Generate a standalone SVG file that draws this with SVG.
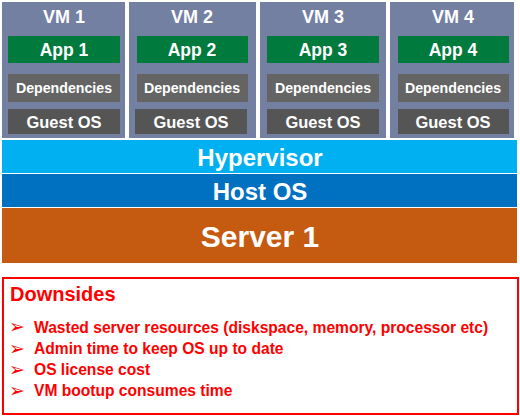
<svg xmlns="http://www.w3.org/2000/svg" width="520" height="418" viewBox="0 0 520 418">
<style>
.vm{fill:#7480A2}
.app{fill:#007A3D}
.dep{fill:#646464}
.gos{fill:#555555}
text{font-family:"Liberation Sans",Arial,sans-serif;font-weight:bold;fill:#fff;text-anchor:middle}
.t18{font-size:18px}
.t17{font-size:17.5px}
.t14{font-size:14.2px}
.t16{font-size:16.5px}
.big{font-size:24px}
.srv{font-size:30px}
.red{fill:#FF0000;text-anchor:start}
.bul{font-family:"DejaVu Sans",sans-serif;font-size:19px;font-weight:normal}
</style>
<rect width="520" height="418" fill="#fff"/>
<g id="vm1">
<rect class="vm" x="2" y="2" width="123" height="136"/>
<text class="t18" x="64" y="23">VM 1</text>
<rect class="app" x="8" y="36" width="112" height="27"/>
<text class="t17" x="64" y="56">App 1</text>
<rect class="dep" x="8" y="74" width="112" height="28"/>
<text class="t14" x="64" y="93">Dependencies</text>
<rect class="gos" x="8" y="109" width="112" height="25"/>
<text class="t16" x="64" y="127.5">Guest OS</text>
</g>
<g id="vm2">
<rect class="vm" x="129" y="2" width="127" height="136"/>
<text class="t18" x="192" y="23">VM 2</text>
<rect class="app" x="137" y="36" width="111" height="27"/>
<text class="t17" x="192" y="56">App 2</text>
<rect class="dep" x="137" y="74" width="111" height="28"/>
<text class="t14" x="192" y="93">Dependencies</text>
<rect class="gos" x="135" y="109" width="112" height="25"/>
<text class="t16" x="191" y="127.5">Guest OS</text>
</g>
<g id="vm3">
<rect class="vm" x="260" y="2" width="126" height="136"/>
<text class="t18" x="323" y="23">VM 3</text>
<rect class="app" x="267" y="36" width="112" height="27"/>
<text class="t17" x="323" y="56">App 3</text>
<rect class="dep" x="267" y="74" width="112" height="28"/>
<text class="t14" x="323" y="93">Dependencies</text>
<rect class="gos" x="267" y="109" width="112" height="25"/>
<text class="t16" x="323" y="127.5">Guest OS</text>
</g>
<g id="vm4">
<rect class="vm" x="390" y="2" width="124" height="136"/>
<text class="t18" x="453" y="23">VM 4</text>
<rect class="app" x="398" y="36" width="111" height="27"/>
<text class="t17" x="453" y="56">App 4</text>
<rect class="dep" x="398" y="74" width="111" height="28"/>
<text class="t14" x="453" y="93">Dependencies</text>
<rect class="gos" x="398" y="109" width="111" height="25"/>
<text class="t16" x="453" y="127.5">Guest OS</text>
</g>
<g id="hypervisor">
<rect x="2" y="140" width="515" height="33" fill="#00B0F0"/>
<text class="big" x="260" y="166">Hypervisor</text>
</g>
<g id="hostos">
<rect x="2" y="174" width="515" height="33" fill="#0070C0"/>
<text class="big" x="260" y="200">Host OS</text>
</g>
<g id="server">
<rect x="2" y="208" width="515" height="55" fill="#C55A11"/>
<text class="srv" x="260" y="247">Server 1</text>
</g>
<g id="downsides">
<rect x="3" y="278" width="515" height="136" fill="none" stroke="#FF0000" stroke-width="2"/>
<text class="red" x="10" y="301" style="font-size:20px">Downsides</text>
<text class="red bul" x="9" y="333">➢</text>
<text class="red bul" x="9" y="354.5">➢</text>
<text class="red bul" x="9" y="376">➢</text>
<text class="red bul" x="9" y="397">➢</text>
<text class="red" x="34" y="332.5" style="font-size:15.6px">Wasted server resources (diskspace, memory, processor etc)</text>
<text class="red" x="34" y="353.5" style="font-size:15.6px">Admin time to keep OS up to date</text>
<text class="red" x="34" y="375" style="font-size:15.6px">OS license cost</text>
<text class="red" x="34" y="396" style="font-size:15.6px">VM bootup consumes time</text>
</g>
</svg>
